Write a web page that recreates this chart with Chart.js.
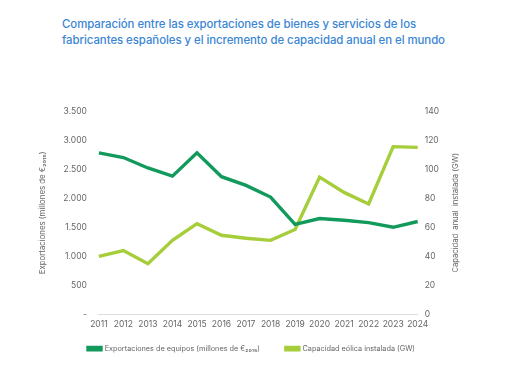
<!DOCTYPE html>
<html>
<head>
<meta charset="utf-8">
<script src="https://cdn.jsdelivr.net/npm/chart.js@4/dist/chart.umd.min.js"></script>
<style>
  html, body { margin: 0; padding: 0; background: #fff; }
  #wrap { position: relative; width: 510px; height: 382px; }
  #title { position: absolute; left: 62px; top: 16px; font-family: Inter, Roboto, sans-serif; font-size: 11.4px; line-height: 16px; color: #3a86d4; font-weight: 500; letter-spacing: -0.05px; white-space: nowrap; }
  canvas { position: absolute; left: 0; top: 0; }
</style>
</head>
<body>
<div id="wrap">
  <div id="title">Comparación entre las exportaciones de bienes y servicios de los<br>fabricantes españoles y el incremento de capacidad anual en el mundo</div>
  <canvas id="c" width="510" height="382"></canvas>
</div>
<script>
const years = ['2011','2012','2013','2014','2015','2016','2017','2018','2019','2020','2021','2022','2023','2024'];
const exportaciones = [2780, 2700, 2520, 2380, 2780, 2370, 2220, 2020, 1550, 1650, 1620, 1580, 1500, 1600];
const capacidad = [40, 44, 35, 51, 62.5, 54.5, 52.5, 51, 58.5, 94.5, 84, 76, 115.5, 115];
const leftTicks = [0, 500, 1000, 1500, 2000, 2500, 3000, 3500];
const rightTicks = [0, 20, 40, 60, 80, 100, 120, 140];
const rightTitle = 'Capacidad  anual  instalada (GW)';

const FONT = 'Inter, Roboto, sans-serif';
const tickFont = { family: FONT, size: 8.5 };
const grey = '#666';
function fmt(v) {
  if (v === 0) return '-';
  const s = String(Math.round(v));
  return s.length > 3 ? s.slice(0, s.length - 3) + '.' + s.slice(-3) : s;
}

const layoutTweaks = {
  id: 'layoutTweaks',
  afterLayout(chart) {
    const lg = chart.legend;
    if (lg) {
      const dx = 62 - lg.left;
      lg.left += dx; lg.right += dx;
      const dy = 319 - lg.top;
      lg.top += dy; lg.bottom += dy;
    }
  },
  afterDraw(chart) {
    const a = chart.chartArea;
    const ctx = chart.ctx;
    ctx.save();
    ctx.translate(456, (a.top + a.bottom) / 2);
    ctx.rotate(-Math.PI / 2);
    ctx.fillStyle = grey;
    ctx.font = '7.6px ' + FONT;
    ctx.textAlign = 'center';
    ctx.textBaseline = 'middle';
    ctx.fillText(rightTitle, 0, 0);
    ctx.restore();
  }
};

new Chart(document.getElementById('c'), {
  type: 'line',
  data: {
    labels: years,
    datasets: [
      { label: 'Exportaciones de equipos (millones de €₂₀₁₅)', data: exportaciones, yAxisID: 'y',
        borderColor: '#129a5c', backgroundColor: '#129a5c', borderWidth: 3.4, pointRadius: 0, tension: 0 },
      { label: 'Capacidad eólica instalada (GW)', data: capacidad, yAxisID: 'y1',
        borderColor: '#a6cd3a', backgroundColor: '#a6cd3a', borderWidth: 3.4, pointRadius: 0, tension: 0 }
    ]
  },
  options: {
    responsive: false,
    animation: false,
    layout: { padding: { top: 111, left: 38, right: 64, bottom: 4 } },
    plugins: {
      title: { display: false },
      tooltip: { enabled: false },
      legend: {
        position: 'bottom', align: 'start',
        labels: { boxWidth: 13, boxHeight: 2.5, padding: 26, color: grey,
          font: { family: FONT, size: 7.3 } }
      }
    },
    scales: {
      x: {
        grid: { display: false, drawTicks: false },
        border: { display: true, color: '#dddddd', width: 1 },
        ticks: { color: grey, font: tickFont, padding: 5, maxRotation: 0, autoSkip: false }
      },
      y: {
        position: 'left', min: 0, max: 3500,
        afterBuildTicks: (ax) => { ax.ticks = leftTicks.map(v => ({ value: v })); },
        grid: { display: false, drawTicks: false },
        border: { display: false },
        ticks: { color: grey, font: tickFont, padding: 12, callback: (v) => fmt(v) },
        title: { display: true, text: 'Exportaciones (millones de €₂₀₁₅)', color: grey,
          font: { family: FONT, size: 7.8 }, padding: { top: 0, bottom: 4 } }
      },
      y1: {
        position: 'right', min: 0, max: 140,
        afterBuildTicks: (ax) => { ax.ticks = rightTicks.map(v => ({ value: v })); },
        grid: { display: false, drawTicks: false },
        border: { display: false },
        ticks: { color: grey, font: tickFont, padding: 7, callback: (v) => String(v) }
      }
    }
  },
  plugins: [layoutTweaks]
});
</script>
</body>
</html>
